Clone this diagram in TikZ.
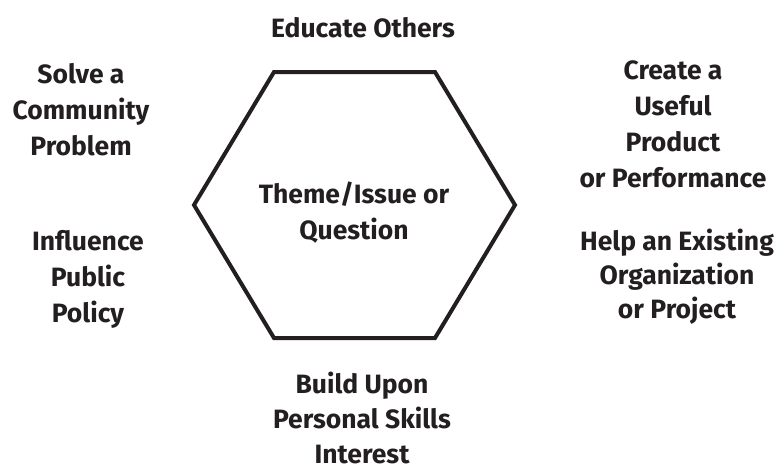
\documentclass[tikz,border=0pt]{standalone}
\usepackage{fontspec}
\setmainfont{Fira Sans}
\usepackage{xcolor}
\usepackage{tikz}
\usetikzlibrary{positioning,calc}

\definecolor{inkgray}{HTML}{231F20}

\begin{document}
\begin{tikzpicture}[x=1pt,y=-1pt,
    goal/.style={align=center, inner sep=0pt, text=inkgray,
                 font=\fontsize{26.5}{36}\selectfont\bfseries},
    hexline/.style={draw=inkgray, line width=4pt, line join=miter}]
    \useasboundingbox (0,0) rectangle (776,471);

    % Hexagon corners
    \coordinate (TL) at (274,72);
    \coordinate (TR) at (435,72);
    \coordinate (R)  at (515,205);
    \coordinate (BR) at (435,338);
    \coordinate (BL) at (274,338);
    \coordinate (L)  at (194,205);
    \draw[hexline] (TL) -- (TR) -- (R) -- (BR) -- (BL) -- (L) -- cycle;

    % Centre
    \node[goal] (theme) at (354,213) {Theme/Issue or\\Question};

    % Goals around the hexagon
    \node[goal] (educate) at (363,28) {Educate Others};
    \node[goal] (solve) at (81,110) {Solve a\\Community\\Problem};
    \node[goal] (create) at (673,124) {Create a\\Useful\\Product\\or Performance};
    \node[goal] (influence) at (88,279) {Influence\\Public\\Policy};
    \node[goal, font=\fontsize{26.5}{34}\selectfont\bfseries] (help) at (677,277)
        {Help an Existing\\Organization\\or Project};
    \node[goal, font=\fontsize{26.5}{35}\selectfont\bfseries] (build) at (362,418)
        {Build Upon\\Personal Skills\\Interest};

\end{tikzpicture}
\end{document}
